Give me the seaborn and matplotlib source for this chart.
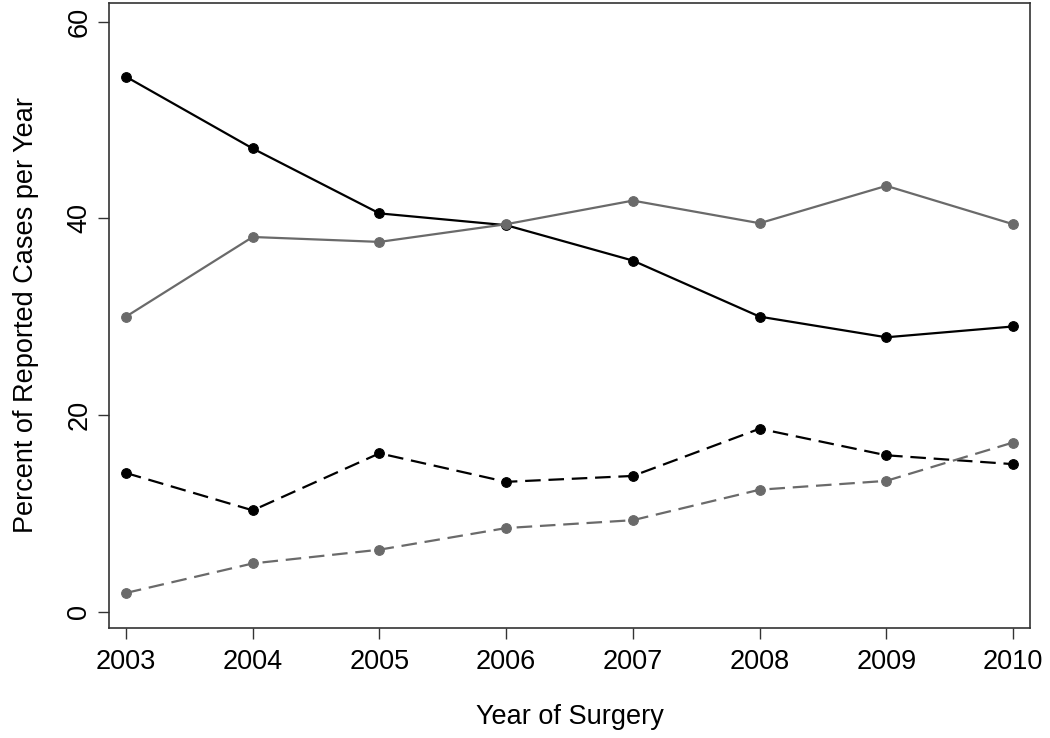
import numpy as np
import pandas as pd
import matplotlib
matplotlib.use("Agg")
import matplotlib.pyplot as plt
import seaborn as sns

# data
years = [2003, 2004, 2005, 2006, 2007, 2008, 2009, 2010]
black_solid = [54.4, 47.1, 40.5, 39.3, 35.7, 30.0, 27.9, 29.0]
gray_solid = [30.0, 38.1, 37.6, 39.4, 41.8, 39.5, 43.3, 39.4]
black_dashed = [14.1, 10.3, 16.1, 13.2, 13.8, 18.6, 15.9, 15.0]
gray_dashed = [1.9, 4.9, 6.3, 8.5, 9.3, 12.4, 13.3, 17.2]

sns.set_style("white")
plt.rcParams["font.family"] = ["Liberation Sans", "DejaVu Sans"]

fig = plt.figure(figsize=(10.5, 7.38), dpi=100)
ax = fig.add_axes([0.1038, 0.1495, 0.8772, 0.8465])

series = [
    (black_solid, "black", (None, None)),
    (gray_solid, "#6a6a6a", (None, None)),
    (black_dashed, "black", (7, 3.5)),
    (gray_dashed, "#6a6a6a", (7, 3.5)),
]
for vals, col, dash in series:
    df = pd.DataFrame({"year": years, "pct": vals})
    sns.lineplot(data=df, x="year", y="pct", color=col, marker="o",
                 markersize=7, markeredgecolor=col, linewidth=1.6, ax=ax)
    if dash[0] is not None:
        ax.lines[-1].set_dashes(dash)

ax.set_xlim(2002.866, 2010.134)
ax.set_ylim(-1.63, 61.9)
ax.set_xticks(years)
ax.set_yticks([0, 20, 40, 60])
ax.tick_params(axis="both", direction="out", length=8, width=1, color="#333333",
               labelsize=19.5, labelcolor="black", left=True, bottom=True)
ax.tick_params(axis="x", pad=7.5)
ax.tick_params(axis="y", pad=4)
for lab in ax.get_yticklabels():
    lab.set_rotation(90)
    lab.set_va("center")
ax.set_xlabel("Year of Surgery", fontsize=19.5, labelpad=21, color="black")
ax.set_ylabel("Percent of Reported Cases per Year", fontsize=19.5, labelpad=20, color="black")
for sp in ax.spines.values():
    sp.set_color("#333333")
    sp.set_linewidth(1.2)
ax.grid(False)

fig.savefig("out.png", dpi=100)
